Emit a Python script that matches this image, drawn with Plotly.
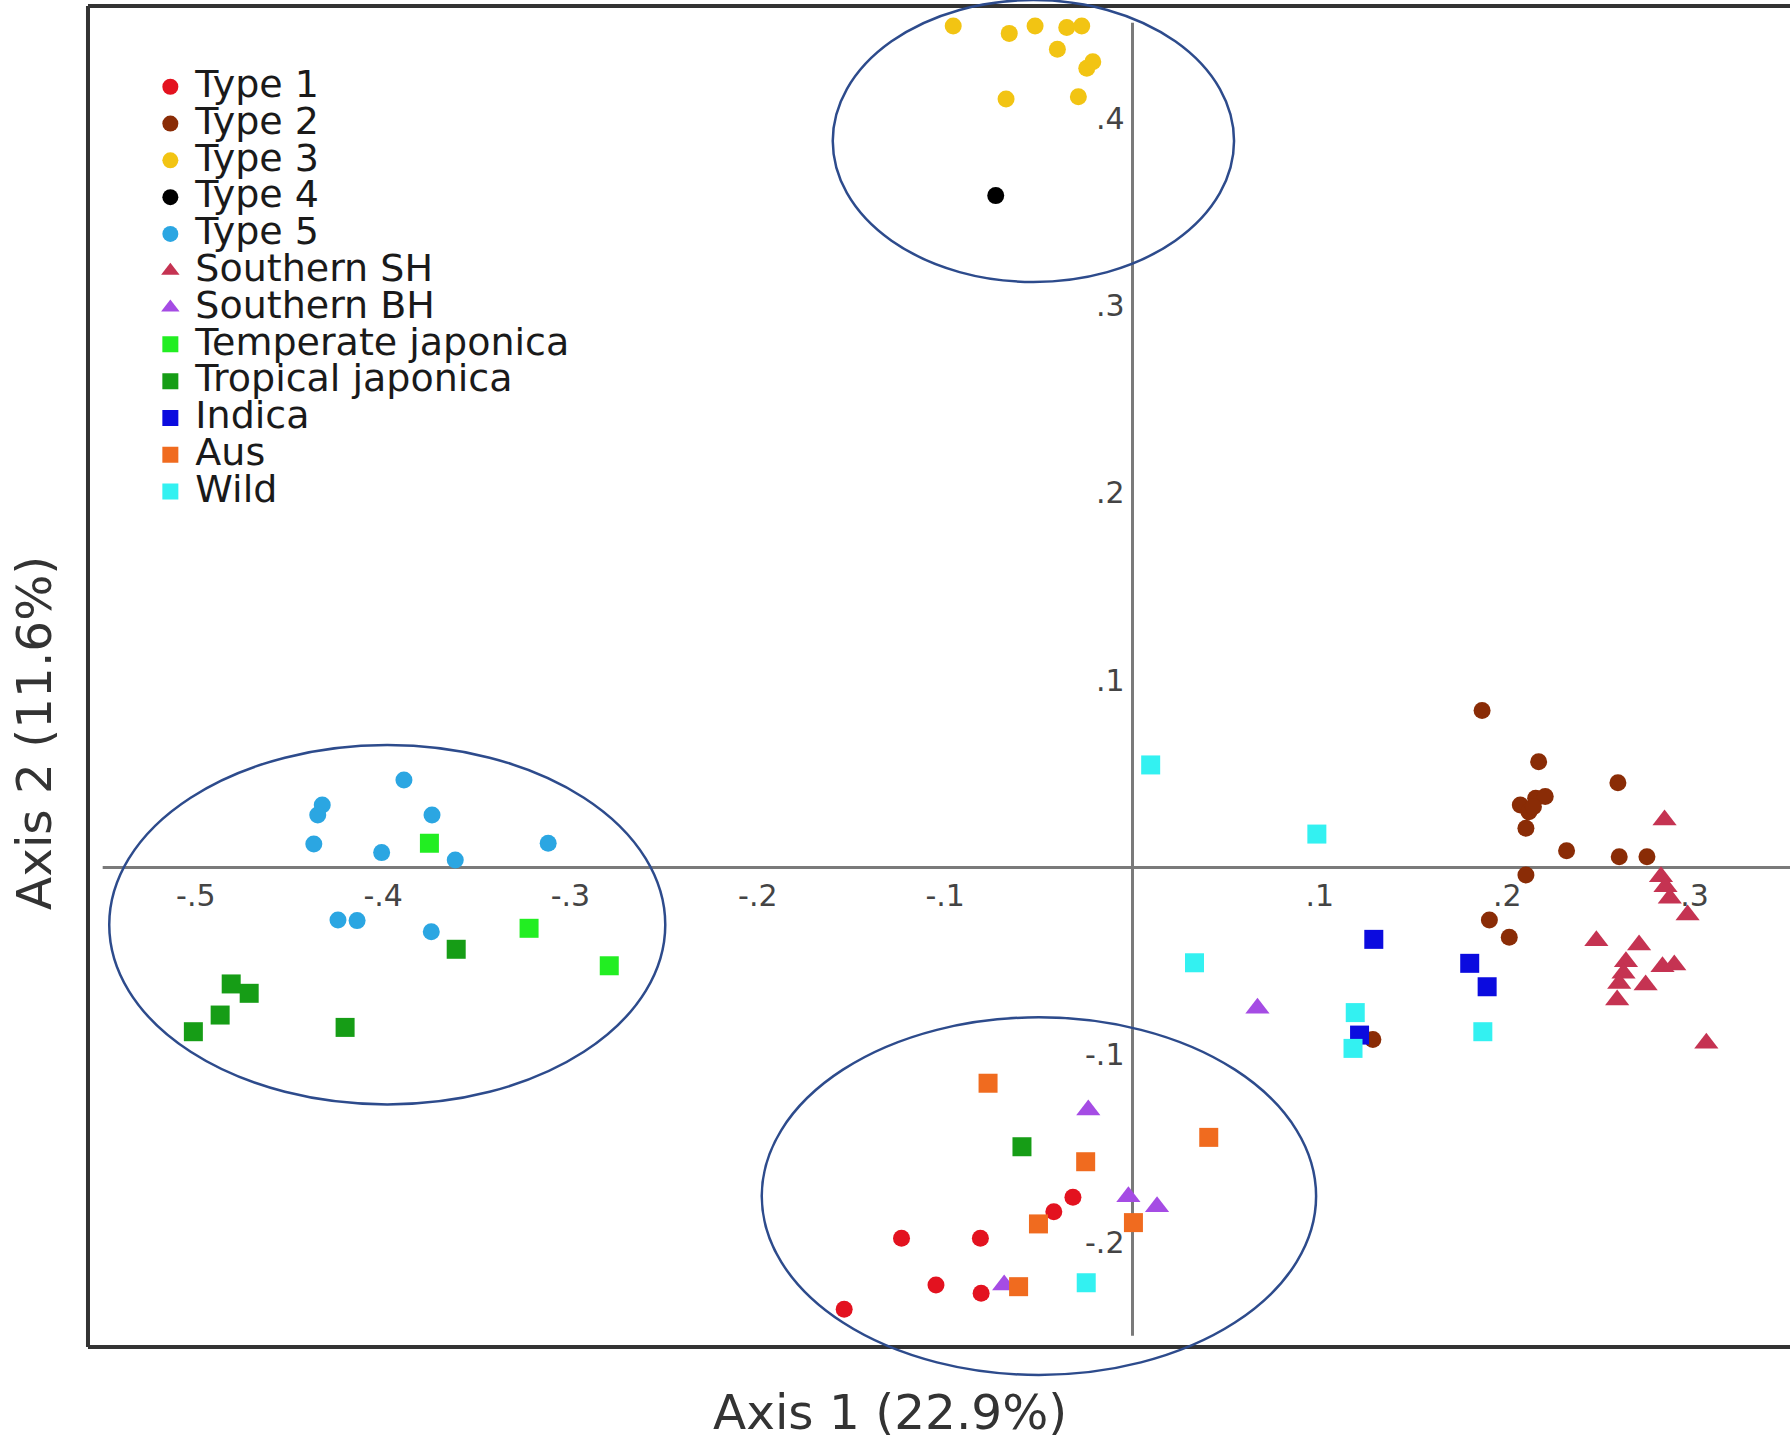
import plotly.graph_objects as go

# ---------------- data ----------------
type1_x = [-0.0318, -0.0420, -0.1233, -0.0812, -0.1049, -0.0808, -0.1539]
type1_y = [-0.1760, -0.1837, -0.1979, -0.1979, -0.2228, -0.2272, -0.2358]

type2_x = [0.1866, 0.2168, 0.2591, 0.2070, 0.2152, 0.2203, 0.2116, 0.2100, 0.2140,
           0.2317, 0.2598, 0.2746, 0.2100, 0.1905, 0.2011, 0.1283]
type2_y = [0.0838, 0.0565, 0.0453, 0.0334, 0.0370, 0.0379, 0.0298, 0.0210, 0.0325,
           0.0090, 0.0058, 0.0058, -0.0040, -0.0280, -0.0372, -0.0917]

type3_x = [-0.0957, -0.0658, -0.0520, -0.0351, -0.0271, -0.0401, -0.0244, -0.0212, -0.0675, -0.0289]
type3_y = [0.4492, 0.4453, 0.4492, 0.4485, 0.4492, 0.4368, 0.4267, 0.4302, 0.4103, 0.4115]

type4_x = [-0.0730]
type4_y = [0.3587]

type5_x = [-0.3889, -0.4325, -0.4349, -0.3739, -0.4370, -0.4008, -0.3615, -0.3119, -0.4241, -0.4139, -0.3743]
type5_y = [0.0468, 0.0334, 0.0281, 0.0281, 0.0126, 0.0080, 0.0041, 0.0130, -0.0280, -0.0283, -0.0342]

southern_sh_x = [0.2840, 0.2821, 0.2845, 0.2868, 0.2963, 0.2476, 0.2704, 0.2634, 0.2829,
                 0.2892, 0.2621, 0.2739, 0.2598, 0.2587, 0.3063]
southern_sh_y = [0.0254, -0.0049, -0.0102, -0.0164, -0.0253, -0.0390, -0.0413, -0.0502, -0.0529,
                 -0.0520, -0.0564, -0.0627, -0.0618, -0.0707, -0.0938]

southern_bh_x = [0.0667, -0.0236, -0.0022, 0.0131, -0.0685]
southern_bh_y = [-0.0751, -0.1294, -0.1757, -0.1810, -0.2228]

temperate_x = [-0.3753, -0.3221, -0.2793]
temperate_y = [0.0130, -0.0324, -0.0524]

tropical_x = [-0.3610, -0.4811, -0.4715, -0.4870, -0.5013, -0.4203, -0.0590]
tropical_y = [-0.0436, -0.0621, -0.0671, -0.0787, -0.0876, -0.0853, -0.1490]

indica_x = [0.1288, 0.1800, 0.1893, 0.1212]
indica_y = [-0.0383, -0.0511, -0.0636, -0.0894]

aus_x = [-0.0771, -0.0250, 0.0407, -0.0502, 0.0005, -0.0608]
aus_y = [-0.1151, -0.1570, -0.1440, -0.1902, -0.1895, -0.2237]

wild_x = [0.0097, 0.0984, 0.0331, 0.1189, 0.1177, 0.1870, -0.0247]
wild_y = [0.0548, 0.0179, -0.0508, -0.0774, -0.0965, -0.0876, -0.2216]

x_tickvals = [-0.5, -0.4, -0.3, -0.2, -0.1, 0.1, 0.2, 0.3]
x_ticktext = ["-.5", "-.4", "-.3", "-.2", "-.1", ".1", ".2", ".3"]
y_tickvals = [-0.2, -0.1, 0.1, 0.2, 0.3, 0.4]
y_ticktext = ["-.2", "-.1", ".1", ".2", ".3", ".4"]

x_title = "Axis 1 (22.9%)"
y_title = "Axis 2 (11.6%)"

# ---------------- styling ----------------
FONT = "DejaVu Sans, Verdana, sans-serif"
series = [
    ("Type 1", type1_x, type1_y, "circle", "#e3121f", 17),
    ("Type 2", type2_x, type2_y, "circle", "#8a2c06", 17),
    ("Type 3", type3_x, type3_y, "circle", "#f2c413", 17),
    ("Type 4", type4_x, type4_y, "circle", "#000000", 17),
    ("Type 5", type5_x, type5_y, "circle", "#2ba6e2", 17),
    ("Southern SH", southern_sh_x, southern_sh_y, "triangle-up", "#c53352", 21),
    ("Southern BH", southern_bh_x, southern_bh_y, "triangle-up", "#a54ce4", 21),
    ("Temperate japonica", temperate_x, temperate_y, "square", "#22ee22", 19),
    ("Tropical japonica", tropical_x, tropical_y, "square", "#169d16", 19),
    ("Indica", indica_x, indica_y, "square", "#0b0bdf", 19),
    ("Aus", aus_x, aus_y, "square", "#f06b1f", 19),
    ("Wild", wild_x, wild_y, "square", "#33f1f1", 19),
]

fig = go.Figure()
for name, xs, ys, sym, col, sz in series:
    fig.add_trace(go.Scatter(
        x=xs, y=ys, mode="markers",
        name=f'<span style="font-size:38px">{name}</span>',
        marker=dict(symbol=sym, color=col, size=sz, line=dict(width=0)),
    ))

X_RANGE = [-0.60451, 0.35096]
Y_RANGE = [-0.30554, 0.46312]

frame_left, frame_top, frame_bottom = -0.55754, 0.45992, -0.25588
frame_col = "#333333"
axis_col = "#7a7a7a"
ell_col = "#2d4b8c"

shapes = [
    # zero axis lines
    dict(type="line", xref="x", yref="y", x0=0, x1=0, y0=-0.2499, y1=0.451,
         line=dict(color=axis_col, width=3), layer="below"),
    dict(type="line", xref="x", yref="y", x0=-0.5497, x1=0.36, y0=0, y1=0,
         line=dict(color=axis_col, width=3), layer="below"),
    # frame
    dict(type="line", xref="x", yref="y", x0=frame_left, x1=frame_left, y0=frame_bottom, y1=frame_top,
         line=dict(color=frame_col, width=4)),
    dict(type="line", xref="x", yref="y", x0=frame_left, x1=0.36, y0=frame_top, y1=frame_top,
         line=dict(color=frame_col, width=4)),
    dict(type="line", xref="x", yref="y", x0=frame_left, x1=0.36, y0=frame_bottom, y1=frame_bottom,
         line=dict(color=frame_col, width=4)),
    # ellipses
    dict(type="circle", xref="x", yref="y", x0=-0.160, x1=0.0542, y0=0.3126, y1=0.4631,
         line=dict(color=ell_col, width=2.5)),
    dict(type="circle", xref="x", yref="y", x0=-0.5462, x1=-0.2494, y0=-0.1264, y1=0.0654,
         line=dict(color=ell_col, width=2.5)),
    dict(type="circle", xref="x", yref="y", x0=-0.1979, x1=0.0980, y0=-0.2708, y1=-0.0799,
         line=dict(color=ell_col, width=2.5)),
]

x_pos = (0 - Y_RANGE[0]) / (Y_RANGE[1] - Y_RANGE[0])
y_pos = (0 - X_RANGE[0]) / (X_RANGE[1] - X_RANGE[0])

fig.update_layout(
    width=1790, height=1440,
    margin=dict(l=0, r=0, t=0, b=0),
    paper_bgcolor="white", plot_bgcolor="white",
    font=dict(family=FONT, color="#333333"),
    showlegend=True,
    legend=dict(
        x=0.0812, y=0.956, xanchor="left", yanchor="top",
        bgcolor="rgba(0,0,0,0)",
        font=dict(family=FONT, size=26, color="#1a1a1a"),
        tracegroupgap=0, itemwidth=40,
    ),
    xaxis=dict(
        range=X_RANGE, showgrid=False, zeroline=False, showline=False,
        anchor="free", position=x_pos, ticks="", ticklabelstandoff=7,
        tickvals=x_tickvals, ticktext=x_ticktext,
        tickfont=dict(family=FONT, size=30, color="#444444"),
    ),
    yaxis=dict(
        range=Y_RANGE, showgrid=False, zeroline=False, showline=False,
        anchor="free", position=y_pos, side="left", ticks="", ticklabelstandoff=8,
        tickvals=y_tickvals, ticktext=y_ticktext,
        tickfont=dict(family=FONT, size=30, color="#444444"),
    ),
    shapes=shapes,
    annotations=[
        dict(text=x_title, xref="paper", yref="paper", x=890 / 1790, y=1 - 1412 / 1440,
             xanchor="center", yanchor="middle", showarrow=False,
             font=dict(family=FONT, size=48.5, color="#333333")),
        dict(text=y_title, xref="paper", yref="paper", x=34 / 1790, y=1 - 733 / 1440,
             xanchor="center", yanchor="middle", showarrow=False, textangle=-90,
             font=dict(family=FONT, size=48.5, color="#333333")),
    ],
)

fig.write_html("out.html")
